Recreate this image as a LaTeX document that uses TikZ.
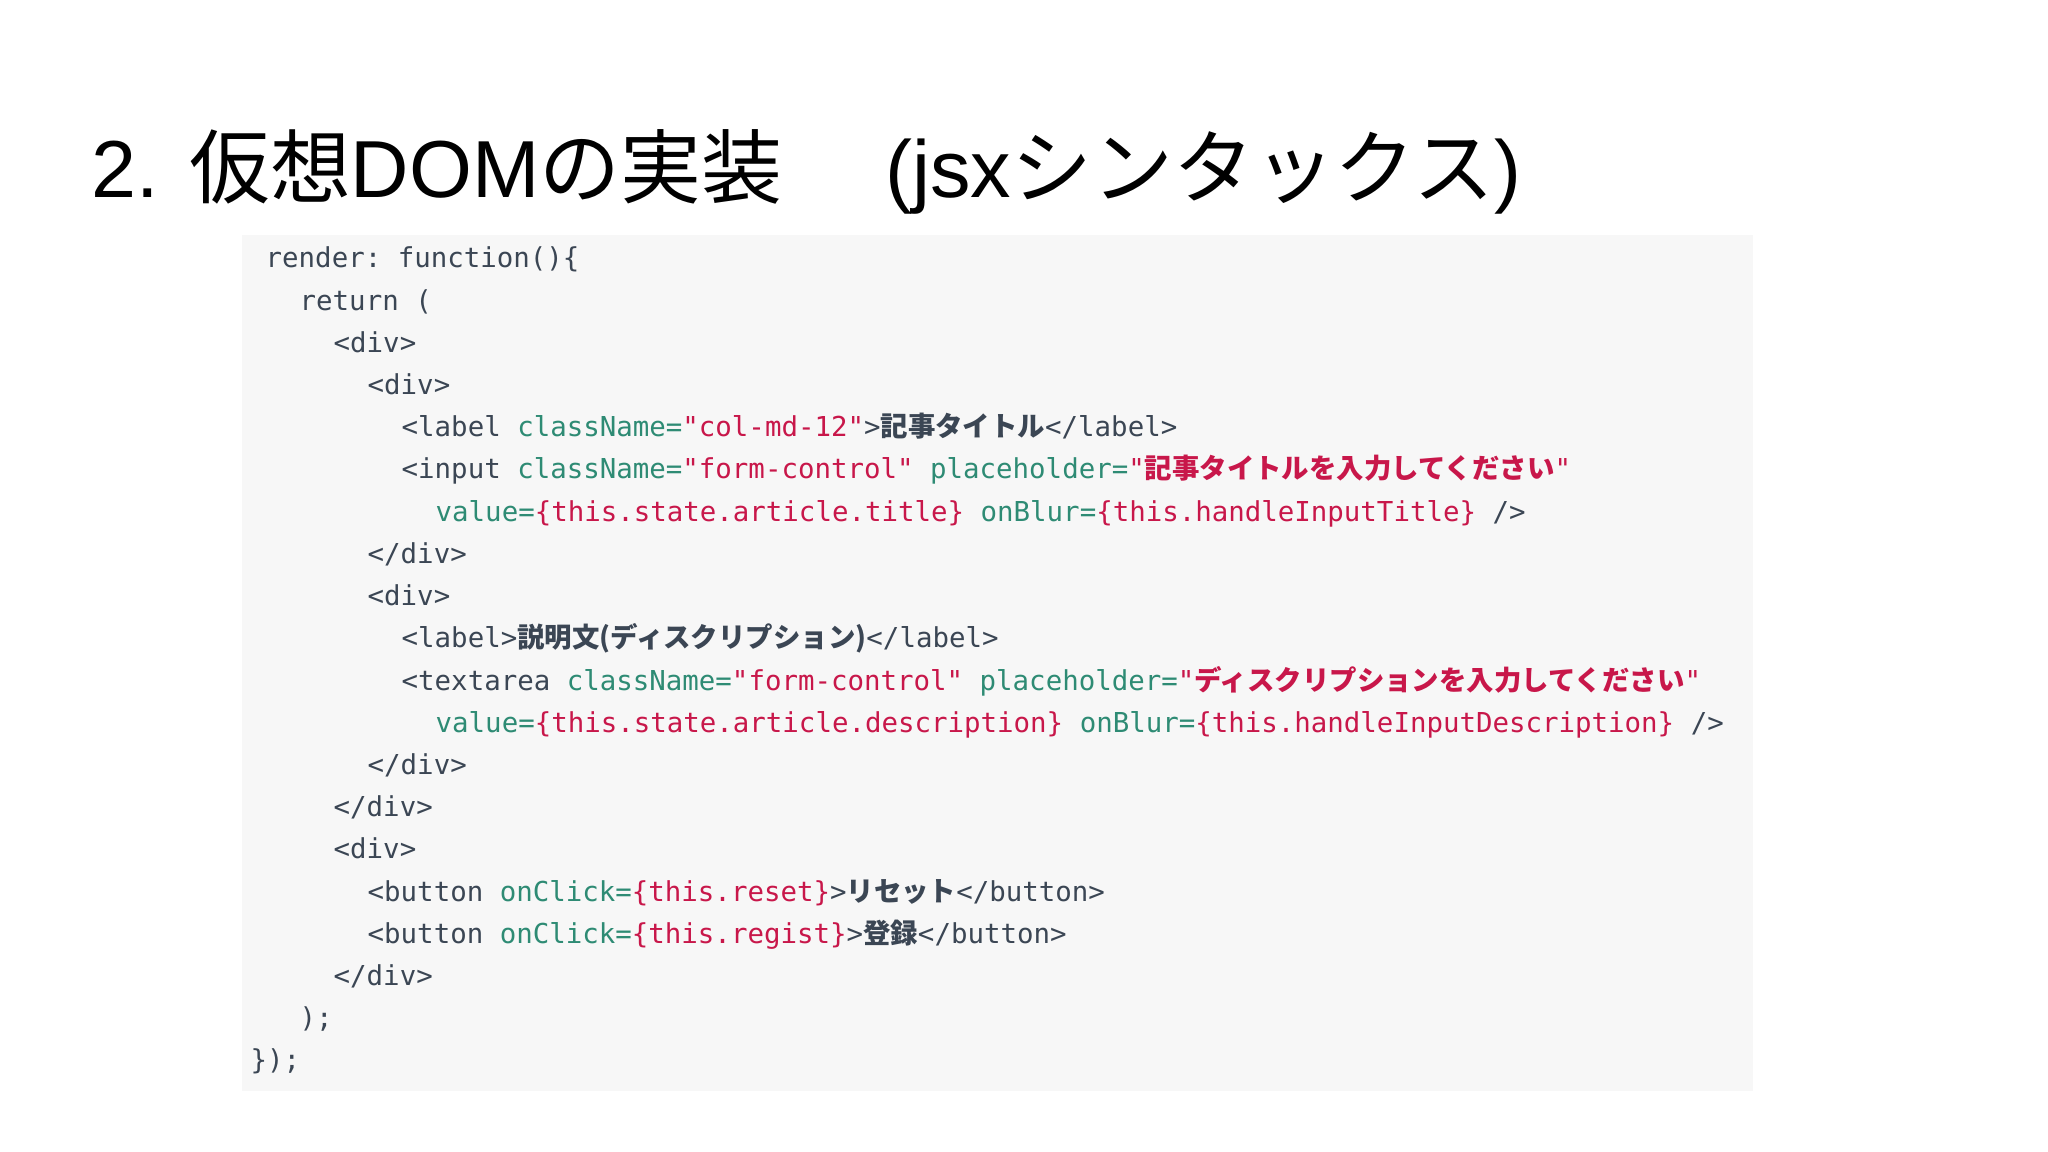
\documentclass[tikz,border=0pt]{standalone}
\usepackage{fontspec}
\setmainfont{Liberation Sans}
\setmonofont{DejaVu Sans Mono}
\newfontfamily\jp{Noto Sans CJK JP}
\definecolor{tagc}{HTML}{3B4654}
\definecolor{attc}{HTML}{2E8B74}
\definecolor{strc}{HTML}{C8174A}
\definecolor{boxbg}{HTML}{F7F7F7}
\newcommand{\Tg}[1]{\textcolor{tagc}{#1}}
\newcommand{\At}[1]{\textcolor{attc}{#1}}
\newcommand{\St}[1]{\textcolor{strc}{#1}}
\newcommand{\Jp}[1]{{\jp\bfseries #1}}
\begin{document}
\begin{tikzpicture}[x=0.01cm,y=-0.01cm,
  code/.style={anchor=base west,inner sep=0pt,font=\ttfamily\fontsize{7.8}{9}\selectfont,text=tagc}]
\useasboundingbox (0,0) rectangle (2048,1152);
\fill[white] (0,0) rectangle (2048,1152);
\node[anchor=base west,inner sep=0pt,font=\fontsize{23}{28}\selectfont] (title) at (91,198)
  {2. {\jp 仮想}DOM{\jp の実装}\quad\ (jsx{\jp シンタックス})};
\fill[boxbg] (242,235) rectangle (1753,1091);
\def\dy{42.2}
\node[code] (l1) at (265,268) {render: function()\{};
\node[code] (l2) at (299,268+1*\dy) {return (};
\node[code] (l3) at (333,268+2*\dy) {<div>};
\node[code] (l4) at (367,268+3*\dy) {<div>};
\node[code] (l5) at (401,268+4*\dy) {<label \At{className=}\St{"col-md-12"}>\Jp{記事タイトル}</label>};
\node[code] (l6) at (401,268+5*\dy) {<input \At{className=}\St{"form-control"} \At{placeholder=}\St{"\Jp{記事タイトルを入力してください}"}};
\node[code] (l7) at (435,268+6*\dy) {\At{value=}\St{\{this.state.article.title\}} \At{onBlur=}\St{\{this.handleInputTitle\}} />};
\node[code] (l8) at (367,268+7*\dy) {</div>};
\node[code] (l9) at (367,268+8*\dy) {<div>};
\node[code] (l10) at (401,268+9*\dy) {<label>\Jp{説明文(ディスクリプション)}</label>};
\node[code] (l11) at (401,268+10*\dy) {<textarea \At{className=}\St{"form-control"} \At{placeholder=}\St{"\Jp{ディスクリプションを入力してください}"}};
\node[code] (l12) at (435,268+11*\dy) {\At{value=}\St{\{this.state.article.description\}} \At{onBlur=}\St{\{this.handleInputDescription\}} />};
\node[code] (l13) at (367,268+12*\dy) {</div>};
\node[code] (l14) at (333,268+13*\dy) {</div>};
\node[code] (l15) at (333,268+14*\dy) {<div>};
\node[code] (l16) at (367,268+15*\dy) {<button \At{onClick=}\St{\{this.reset\}}>\Jp{リセット}</button>};
\node[code] (l17) at (367,268+16*\dy) {<button \At{onClick=}\St{\{this.regist\}}>\Jp{登録}</button>};
\node[code] (l18) at (333,268+17*\dy) {</div>};
\node[code] (l19) at (299,268+18*\dy) {);};
\node[code] (l20) at (250,268+19*\dy) {\});};
\end{tikzpicture}
\end{document}
